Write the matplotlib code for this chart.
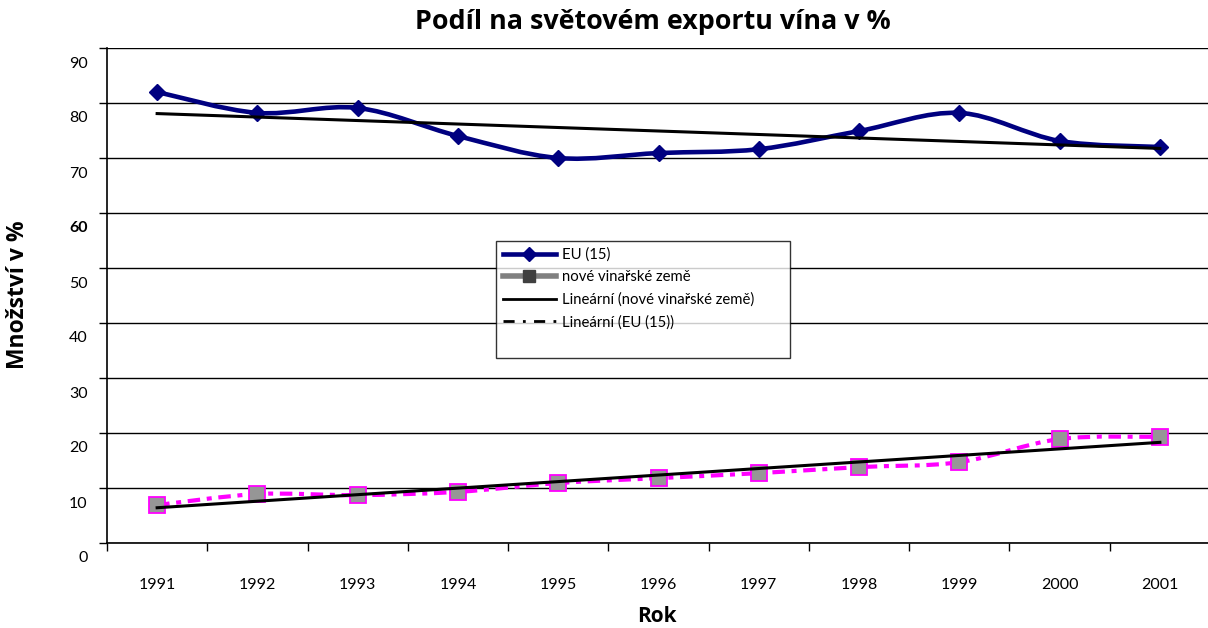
import numpy as np
import matplotlib
matplotlib.use("Agg")
import matplotlib.pyplot as plt
from matplotlib.path import Path
from matplotlib.patches import PathPatch
from matplotlib.lines import Line2D
import matplotlib.transforms as mtransforms

years = ["1991", "1992", "1993", "1994", "1995", "1996", "1997", "1998", "1999", "2000", "2001"]
eu15 = [82.0, 78.2, 79.1, 74.0, 70.0, 70.9, 71.6, 74.9, 78.2, 73.1, 72.0]
nove = [6.9, 8.9, 8.7, 9.3, 10.9, 11.8, 12.7, 13.8, 14.7, 18.9, 19.3]
y_ticks = [0, 10, 20, 30, 40, 50, 60, 70, 80, 90]

plt.rcParams['font.family'] = ['Lato', 'DejaVu Sans']
BOLD_FONT = ['Open Sans', 'DejaVu Sans']

W, H = 1208, 628
fig = plt.figure(figsize=(W / 100, H / 100), dpi=100)
ax = fig.add_axes([107 / W, 85 / H, 1103 / W, 495 / H])

x = np.arange(1, len(years) + 1)


def smooth_path(xs, ys):
    verts = [(xs[0], ys[0])]
    codes = [Path.MOVETO]
    n = len(xs)
    for i in range(n - 1):
        p0 = i - 1 if i > 0 else i
        p3 = i + 2 if i + 2 < n else i + 1
        c1 = (xs[i] + (xs[i + 1] - xs[p0]) / 6, ys[i] + (ys[i + 1] - ys[p0]) / 6)
        c2 = (xs[i + 1] - (xs[p3] - xs[i]) / 6, ys[i + 1] - (ys[p3] - ys[i]) / 6)
        verts += [c1, c2, (xs[i + 1], ys[i + 1])]
        codes += [Path.CURVE4] * 3
    return Path(verts, codes)


navy = '#000080'
magenta = '#FF00FF'

# EU (15) smoothed line
ax.add_patch(PathPatch(smooth_path(x, eu15), fill=False, edgecolor=navy,
                       linewidth=3.3, zorder=3, capstyle='round', joinstyle='round'))
ax.plot(x, eu15, linestyle='none', marker='D', markersize=8, color=navy, zorder=4)

# nové vinařské země smoothed dashed line
ax.add_patch(PathPatch(smooth_path(x, nove), fill=False, edgecolor=magenta,
                       linewidth=3.0, linestyle=(0, (3, 1.6, 1.2, 1.6)), zorder=3))
ax.plot(x, nove, linestyle='none', marker='s', markersize=11, markerfacecolor='#969696',
        markeredgecolor=magenta, markeredgewidth=1.3, zorder=4)

# linear trends
k_eu, b_eu = np.polyfit(x, eu15, 1)
k_nv, b_nv = np.polyfit(x, nove, 1)
xe = np.array([x[0], x[-1]])
ax.plot(xe, k_eu * xe + b_eu, color='black', linewidth=2.2, zorder=5)
ax.plot(xe, k_nv * xe + b_nv, color='black', linewidth=2.2, zorder=5)

ax.set_xlim(0.5, len(years) + 0.5)
ax.set_ylim(0, 90)

ax.set_yticks(y_ticks)
ax.set_yticklabels([str(v) for v in y_ticks])
ax.yaxis.grid(True, color='black', linewidth=1.0)
ax.set_axisbelow(True)
ax.tick_params(axis='y', direction='out', length=6, width=1, pad=8, labelsize=11.5)

ax.set_xticks(x)
ax.set_xticklabels(years)
ax.set_xticks(np.arange(0.5, len(years) + 1, 1), minor=True)
ax.tick_params(axis='x', which='major', length=0, pad=25, labelsize=11.5)
ax.tick_params(axis='x', which='minor', direction='out', length=6, width=1)

for s in ['top', 'right']:
    ax.spines[s].set_visible(False)
ax.spines['left'].set_linewidth(1.2)
ax.spines['bottom'].set_linewidth(1.2)

offset = mtransforms.ScaledTranslation(0, -14 / 100, fig.dpi_scale_trans)
for lab in ax.get_yticklabels():
    lab.set_transform(lab.get_transform() + offset)
    if lab.get_text() == '60':
        lab.set_fontweight('bold')

ax.set_xlabel('Rok', fontsize=15, fontweight='bold', family=BOLD_FONT)
ax.xaxis.set_label_coords(657 / W, 1 - 617 / H, transform=fig.transFigure)
ax.xaxis.label.set_va('center')
ax.set_ylabel('Množství v %', fontsize=16.5, fontweight='bold', family=BOLD_FONT)
ax.yaxis.set_label_coords(18 / W, 1 - 295 / H, transform=fig.transFigure)
ax.yaxis.label.set_va('center')
fig.text(653 / W, 1 - 22 / H, 'Podíl na světovém exportu vína v %', ha='center', va='center',
         fontsize=19.4, fontweight='bold', family=BOLD_FONT)

handles = [
    Line2D([], [], color=navy, linewidth=3.3, marker='D', markersize=7),
    Line2D([], [], color='#808080', linewidth=4, marker='s', markersize=8,
           markerfacecolor='#404040', markeredgecolor='#404040'),
    Line2D([], [], color='black', linewidth=2),
    Line2D([], [], color='black', linewidth=2, linestyle=(0, (4, 3, 1, 3))),
    Line2D([], [], color='none'),
]
labels = ['EU (15)', 'nové vinařské země', 'Lineární (nové vinařské země)', 'Lineární (EU (15))',
          ' ' * 59]
leg = fig.legend(handles, labels, loc='upper left', bbox_to_anchor=(496 / W, 1 - 241 / H),
                 frameon=True, fancybox=False, edgecolor='black', fontsize=10.7,
                 handlelength=3.6, handletextpad=0.4, borderpad=0.45, labelspacing=0.55,
                 borderaxespad=0)
leg.get_frame().set_linewidth(1.0)

fig.savefig('out.png', dpi=100)
